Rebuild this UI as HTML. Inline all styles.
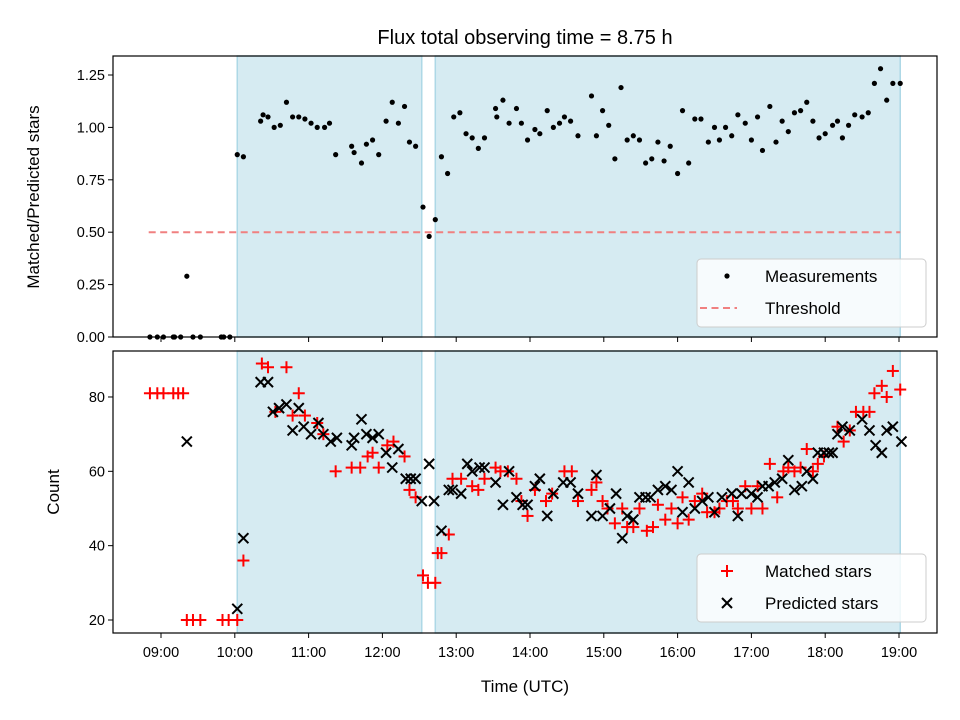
<!DOCTYPE html>
<html><head><meta charset="utf-8"><style>
body{margin:0;background:#fff}
svg{display:block;font-family:"Liberation Sans","DejaVu Sans",sans-serif}
</style></head><body>
<svg id="c" width="960" height="720" xmlns="http://www.w3.org/2000/svg"></svg>
<script>
// times in minutes after 09:00
const ratioTimes=[-9,-3,2,10,11,16,21,26,32,49,51,56,62,67,81,83,87,92,97,102,107,112,117,122,127,133,137,142,155,157,163,167,172,177,183,188,193,198,202,207,213,218,223,228,233,238,243,248,253,258,263,272,273,278,283,289,293,298,304,308,314,319,324,328,333,339,350,354,359,364,369,374,379,384,389,394,399,404,409,414,420,424,429,434,439,445,450,454,459,464,469,475,480,485,489,495,500,505,510,515,520,525,530,535,540,546,550,554,559,564,570,575,580,585,590,595,601];
const ratioValues=[0,0,0,0,0,0,0.29,0,0,0,0,0,0.87,0.86,1.03,1.06,1.05,1.00,1.01,1.12,1.05,1.05,1.04,1.02,1.00,1.00,1.02,0.87,0.91,0.88,0.83,0.92,0.94,0.87,1.03,1.12,1.02,1.10,0.93,0.91,0.62,0.48,0.56,0.86,0.78,1.05,1.07,0.97,0.95,0.90,0.95,1.09,1.05,1.13,1.02,1.09,1.02,0.94,0.99,0.97,1.08,1.00,1.02,1.05,1.03,0.96,1.15,0.96,1.08,1.01,0.85,1.19,0.94,0.96,0.94,0.83,0.85,0.93,0.84,0.91,0.78,1.08,0.83,1.04,1.04,0.93,1.00,0.94,1.00,0.96,1.06,1.02,0.94,1.05,0.89,1.10,0.93,1.03,0.98,1.07,1.08,1.12,1.03,0.95,0.97,1.01,1.03,0.95,1.01,1.06,1.05,1.07,1.21,1.28,1.13,1.21,1.21];
const predTimes=[21,62,67,81,87,91,96,102,107,112,116,122,128,132,138,143,155,157,163,167,172,177,183,188,193,199,203,207,212,218,222,228,234,237,244,249,253,259,263,272,278,283,289,294,298,304,308,314,319,327,333,339,350,354,359,365,370,375,379,384,389,394,398,404,410,415,420,424,429,434,440,445,450,456,464,469,472,480,485,489,494,499,505,510,515,521,525,530,534,539,543,546,550,554,560,570,576,581,586,590,595,602];
const predValues=[68,23,42,84,84,76,77,78,71,77,72,70,73,70,68,69,67,69,74,70,69,70,65,61,66,58,58,58,52,62,52,44,55,55,54,62,60,61,61,57,51,60,53,51,51,56,58,48,54,57,57,54,48,59,48,50,54,42,48,47,53,53,53,55,56,55,60,49,57,50,52,53,49,53,54,48,54,54,53,56,56,57,58,63,55,56,60,58,65,65,65,65,70,72,71,74,71,67,65,71,72,68];
const matchTimes=[-9,-3,2,10,14,18,21,26,32,50,55,62,67,82,87,102,112,93,107,117,127,132,142,155,162,168,172,177,184,189,198,202,207,213,217,223,225,228,234,237,244,253,258,263,272,276,282,289,293,298,304,313,318,328,334,339,350,354,359,363,369,375,379,384,389,395,400,404,410,415,420,424,429,434,440,444,450,454,460,465,469,475,480,485,489,495,501,506,510,515,520,525,530,534,539,550,555,560,565,571,576,580,586,590,595,601];
const matchValues=[81,81,81,81,81,81,20,20,20,20,20,20,36,89,88,88,81,76,75,75,73,70,60,61,61,64,65,61,67,68,64,55,53,32,30,30,38,38,43,58,58,56,55,58,61,60,60,58,52,48,55,52,54,60,60,52,55,57,52,50,46,50,45,45,50,44,45,51,47,50,46,53,47,52,54,49,49,50,52,52,50,56,50,56,50,62,53,60,61,60,61,66,60,62,64,72,68,71,76,76,76,81,83,80,87,82];
const spans=[[62,212],[223,601]];
const xTickLabels=["09:00","10:00","11:00","12:00","13:00","14:00","15:00","16:00","17:00","18:00","19:00"];
const topTicks=[0,0.25,0.5,0.75,1.0,1.25];
const botTicks=[20,40,60,80];
const threshold=0.5;

const NS="http://www.w3.org/2000/svg";
const svg=document.getElementById('c');
function el(t,a,p){const e=document.createElementNS(NS,t);for(const k in a)e.setAttribute(k,a[k]);(p||svg).appendChild(e);return e;}
const L=113,R=937;
const X=m=>161+m*73.8/60;
const T={top:56,bot:337,y:v=>337-v*209.6};
const B={top:351,bot:633,y:v=>620-(v-20)*3.717};

function panel(P,name){
  const g=el('g',{});
  
  
  spans.forEach(s=>{
    const r=el('rect',{x:X(s[0]),y:P.top,width:X(s[1])-X(s[0]),height:P.bot-P.top,fill:'#add8e6','fill-opacity':0.5,stroke:'#add8e6','stroke-width':1.5},g);
    
    
  });
  return g;
}
function frame(P,ticks,fmt,name){
  const f=el('rect',{x:L,y:P.top,width:R-L,height:P.bot-P.top,fill:'none',stroke:'#000','stroke-width':1.2});
  
  
  ticks.forEach(v=>{
    const y=P.y(v);
    el('line',{x1:L-5,x2:L,y1:y,y2:y,stroke:'#000','stroke-width':1});
    const t=el('text',{x:L-8,y:y+5,'text-anchor':'end','font-size':14.5});t.textContent=fmt(v);
    
    
  });
  xTickLabels.forEach((lab,i)=>{
    const x=X(i*60);
    el('line',{x1:x,x2:x,y1:P.bot,y2:P.bot+5,stroke:'#000','stroke-width':1});
  });
}
// top panel
panel(T,'top-panel');
const thr=el('line',{x1:X(-10),x2:X(601),y1:T.y(threshold),y2:T.y(threshold),stroke:'#f08080','stroke-width':2,'stroke-dasharray':'7,4.5','stroke-opacity':1});


ratioTimes.forEach((t,i)=>{
  const c=el('circle',{cx:X(t),cy:T.y(ratioValues[i]),r:2.6,fill:'#000'});
  
  
});
frame(T,topTicks,v=>v.toFixed(2),'top-axes');
// bottom panel
panel(B,'bottom-panel');
function plus(x,y){const g=el('g',{stroke:'#f00','stroke-width':2});el('line',{x1:x-6,x2:x+6,y1:y,y2:y},g);el('line',{x1:x,x2:x,y1:y-6,y2:y+6},g);return g;}
function cross(x,y){const g=el('g',{stroke:'#000','stroke-width':2});el('line',{x1:x-5,x2:x+5,y1:y-5,y2:y+5},g);el('line',{x1:x-5,x2:x+5,y1:y+5,y2:y-5},g);return g;}
matchTimes.forEach((t,i)=>{
  const g=plus(X(t),B.y(matchValues[i]));
  
  
});
predTimes.forEach((t,i)=>{
  const g=cross(X(t),B.y(predValues[i]));
  
  
});
frame(B,botTicks,v=>String(v),'bottom-axes');
xTickLabels.forEach((lab,i)=>{
  const t=el('text',{x:X(i*60),y:B.bot+24,'text-anchor':'middle','font-size':14.5});t.textContent=lab;
  
  
});
// legends
function legend(y0,items,name){
  const g=el('g',{});
  
  
  el('rect',{x:697,y:y0,width:229,height:68,rx:4,fill:'#fff','fill-opacity':0.8,stroke:'#ccc'},g);
  items.forEach((it,i)=>{
    const cy=y0+17+i*32;
    it.draw(g,727,cy);
    const t=el('text',{x:765,y:cy+6,'font-size':17},g);t.textContent=it.label;
    
    
  });
}
legend(259,[
 {label:'Measurements',draw:(g,x,y)=>el('circle',{cx:x,cy:y,r:2.6,fill:'#000'},g)},
 {label:'Threshold',draw:(g,x,y)=>el('line',{x1:x-27,x2:x+10,y1:y,y2:y,stroke:'#f08080','stroke-width':2,'stroke-dasharray':'7,4.5'},g)}
],'top-legend');
legend(554,[
 {label:'Matched stars',draw:(g,x,y)=>g.appendChild(plus(x,y))},
 {label:'Predicted stars',draw:(g,x,y)=>g.appendChild(cross(x,y))}
],'bottom-legend');
// titles
const tt=el('text',{x:525,y:44,'text-anchor':'middle','font-size':20});tt.textContent='Flux total observing time = 8.75 h';


const yl1=el('text',{x:0,y:0,'text-anchor':'middle','font-size':17,transform:'translate(39,197) rotate(-90)'});yl1.textContent='Matched/Predicted stars';


const yl2=el('text',{x:0,y:0,'text-anchor':'middle','font-size':17,transform:'translate(59,492) rotate(-90)'});yl2.textContent='Count';


const xl=el('text',{x:525,y:692,'text-anchor':'middle','font-size':17});xl.textContent='Time (UTC)';


</script>
</body></html>
